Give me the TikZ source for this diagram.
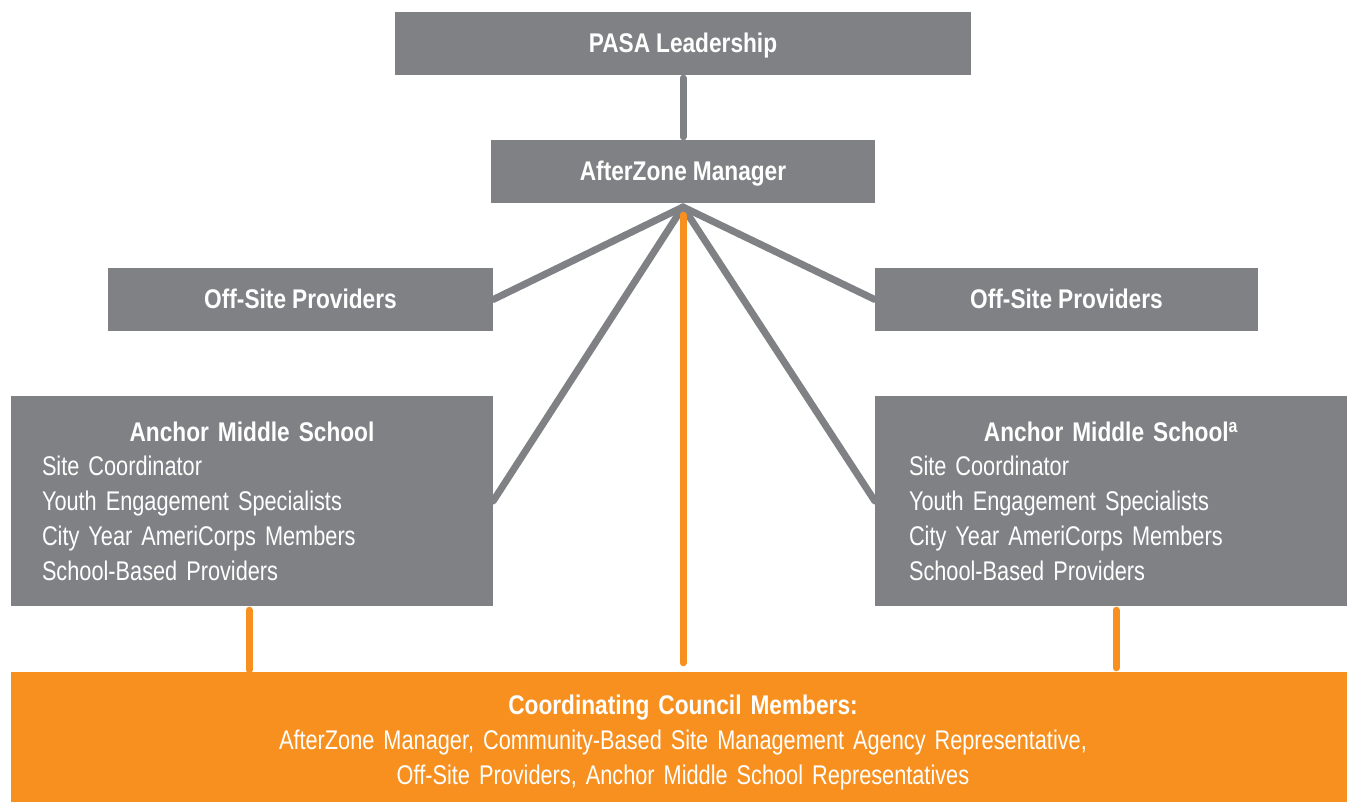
\documentclass[tikz,border=0pt]{standalone}
\usepackage{fontspec}
\setmainfont{Liberation Sans}[FakeStretch=0.805 , BoldFeatures={FakeStretch=0.84}]
\definecolor{boxgray}{HTML}{808184}
\definecolor{boxorange}{HTML}{F7901E}
\newcommand{\boxfont}[1]{\fontsize{27}{#1}\selectfont\spaceskip 6pt plus 2pt minus 1pt\relax}

\begin{document}
\begin{tikzpicture}[x = 1pt , y = -1pt ,
    graybox/.style = {fill = boxgray , text = white , inner sep = 0pt , minimum height = 63pt , text height = 19pt , text depth = 0pt , font = {\boxfont{30}\bfseries}},
    schoolbox/.style = {fill = boxgray , text = white , inner sep = 0pt , minimum height = 210pt , align = left , font = {\boxfont{34.7}}},
    councilbox/.style = {fill = boxorange , text = white , inner sep = 0pt , minimum width = 1336pt , minimum height = 130pt , text width = 1336pt , align = center , font = {\boxfont{35}}},
    grayline/.style = {boxgray , line width = 7pt , line cap = round},
    orangeline/.style = {boxorange , line width = 7pt , line cap = round}]
    \useasboundingbox (0,0) rectangle (1347,802);

    % Kouti
    \node[graybox , minimum width = 576pt] (pasa) at (683,43.5) {PASA Leadership};
    \node[graybox , minimum width = 384pt] (afz) at (683,171.5) {AfterZone Manager};
    \node[graybox , minimum width = 385pt] (osl) at (300.5,299.5) {Off-Site Providers};
    \node[graybox , minimum width = 383pt] (osr) at (1066.5,299.5) {Off-Site Providers};
    \node[schoolbox , minimum width = 482pt , text width = 420pt] (aml) at (252,501)
        {\makebox[420pt]{\bfseries Anchor Middle School}\\ Site Coordinator\\ Youth Engagement Specialists\\ City Year AmeriCorps Members\\ School-Based Providers};
    \node[schoolbox , minimum width = 472pt , text width = 404pt] (amr) at (1111,501)
        {\makebox[404pt]{\bfseries Anchor Middle School\textsuperscript{a}}\\ Site Coordinator\\ Youth Engagement Specialists\\ City Year AmeriCorps Members\\ School-Based Providers};
    \node[councilbox] (council) at (679,737)
        {\rule{0pt}{30pt}\hspace{8pt}\textbf{Coordinating Council Members:}\\ \hspace{8pt}AfterZone Manager, Community-Based Site Management Agency Representative,\\ \hspace{8pt}Off-Site Providers, Anchor Middle School Representatives};

    % Grammes
    \coordinate (hub) at (683,207);
    \draw[grayline , shorten < = 3pt , shorten > = 3pt] (pasa) -- (afz);
    \draw[grayline] (hub) -- (osl.east);
    \draw[grayline] (hub) -- (aml.east);
    \draw[grayline] (hub) -- (osr.west);
    \draw[grayline] (hub) -- (amr.west);
    \draw[orangeline , shorten < = 12pt , shorten > = 9pt] (afz.south) -- (afz.south |- council.north);
    \draw[orangeline , shorten < = 4pt , shorten > = 2pt] ([xshift = -3pt]aml.south) -- ([xshift = -3pt]aml.south |- council.north);
    \draw[orangeline , shorten < = 4pt , shorten > = 4pt] ([xshift = 5pt]amr.south) -- ([xshift = 5pt]amr.south |- council.north);
\end{tikzpicture}
\end{document}
